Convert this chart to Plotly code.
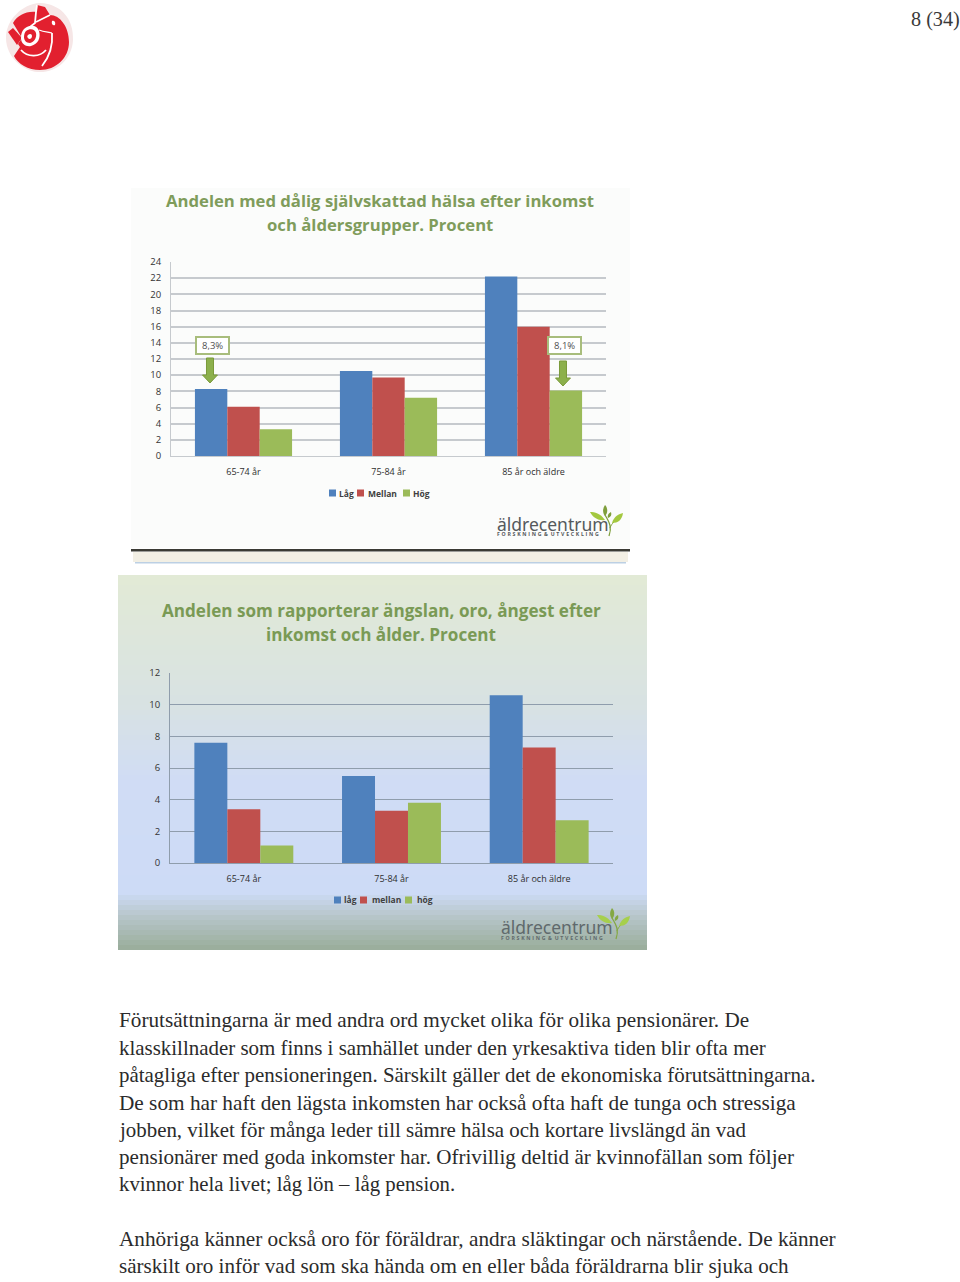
import re
import plotly.graph_objects as go

W, H = 960, 1282

# ---- data ----
groups_a = ["65-74 år", "75-84 år", "85 år och äldre"]
low_a = [8.3, 10.5, 22.2]
mid_a = [6.1, 9.7, 16.0]
high_a = [3.3, 7.2, 8.1]
names_a = ["Låg", "Mellan", "Hög"]
ticks_a = list(range(0, 25, 2))

groups_b = ["65-74 år", "75-84 år", "85 år och äldre"]
low_b = [7.6, 5.5, 10.6]
mid_b = [3.4, 3.3, 7.3]
high_b = [1.1, 3.8, 2.7]
names_b = ["låg", "mellan", "hög"]
ticks_b = list(range(0, 13, 2))

colors = ["#4f81bd", "#c0504d", "#9bbb59"]
title_a = ["Andelen med dålig självskattad hälsa efter inkomst", "och åldersgrupper. Procent"]
title_b = ["Andelen som rapporterar ängslan, oro, ångest efter", "inkomst och ålder. Procent"]
body_lines = [
    "Förutsättningarna är med andra ord mycket olika för olika pensionärer. De",
    "klasskillnader som finns i samhället under den yrkesaktiva tiden blir ofta mer",
    "påtagliga efter pensioneringen. Särskilt gäller det de ekonomiska förutsättningarna.",
    "De som har haft den lägsta inkomsten har också ofta haft de tunga och stressiga",
    "jobben, vilket för många leder till sämre hälsa och kortare livslängd än vad",
    "pensionärer med goda inkomster har. Ofrivillig deltid är kvinnofällan som följer",
    "kvinnor hela livet; låg lön – låg pension.",
    "Anhöriga känner också oro för föräldrar, andra släktingar och närstående. De känner",
    "särskilt oro inför vad som ska hända om en eller båda föräldrarna blir sjuka och",
]

# ---- layout constants ----
body_y = [1020, 1048, 1075, 1103, 1130, 1157, 1184, 1239, 1266]
body_size = [21.2, 20.93, 20.94, 21.28, 20.9, 21.09, 20.8, 21.24, 21.09]
gradient_stops = [(575, (226, 234, 214)), (700, (216, 226, 226)), (780, (208, 220, 245)),
                  (890, (205, 219, 246)), (915, (182, 197, 200)), (950, (150, 170, 150))]

SANS = "Open Sans, Noto Sans, sans-serif"
SERIF = "Liberation Serif, serif"
shapes, annos = [], []


def fx(x):
    return x / W


def fy(y):
    return 1 - y / H


def rect(x0, y0, x1, y1, fill, line=None, lw=0, layer="below"):
    shapes.append(dict(type="rect", xref="paper", yref="paper", x0=fx(x0), x1=fx(x1), y0=fy(y0), y1=fy(y1),
                       fillcolor=fill, line=dict(color=line or fill, width=lw), layer=layer))


def path(d, fill, line=None, lw=0, layer="above"):
    conv = re.sub(r"(-?[\d.]+),(-?[\d.]+)", lambda m: f"{fx(float(m[1])):.5f},{fy(float(m[2])):.5f}", d)
    shapes.append(dict(type="path", xref="paper", yref="paper", path=conv, fillcolor=fill,
                       line=dict(color=line or fill, width=lw), layer=layer))


def stroke(d, color, lw):
    path(d, "rgba(0,0,0,0)", line=color, lw=lw)


def text(x, y, s, size, color, family=SANS, anchor="left", bold=False):
    if bold:
        s = f"<b>{s}</b>"
    annos.append(dict(xref="paper", yref="paper", x=fx(x), y=fy(y), text=s, showarrow=False,
                      xanchor=anchor, yanchor="middle", borderpad=0, font=dict(size=size, color=color, family=family)))


def legend(y, items):
    for (sx, tx, label), c in zip(items, colors):
        rect(sx, y - 3.5, sx + 7, y + 3.5, c, layer="above")
        text(tx, y, label, 8.5, "#404040", bold=True)


def logo(x, y, size, sub_y, sub_size, color):
    text(x, y, "äldrecentrum", size, color, family="Noto Sans, sans-serif")
    gap = "\u2009\u2009"
    spaced = gap.join("FORSKNING") + "  &amp;  " + gap.join("UTVECKLING")
    text(x, sub_y, spaced, sub_size, color, bold=True)


def leaves(ox, oy, c, trunk):
    stroke(f"M{ox+4},{oy+16} C{ox+7},{oy+8} {ox+5},{oy+3} {ox},{oy-5}", trunk, 1.3)
    stroke(f"M{ox+5},{oy+8} C{ox+6},{oy+5} {ox+7},{oy+4} {ox+9},{oy+2}", trunk, 1)
    path(f"M{ox+7},{oy+3} C{ox+9},{oy-4} {ox+14},{oy-6} {ox+18},{oy-7} C{ox+17},{oy} {ox+13},{oy+3} {ox+7},{oy+3}Z", c)
    path(f"M{ox},{oy} C{ox-5},{oy-7} {ox-10},{oy-8} {ox-15},{oy-8} C{ox-12},{oy-2} {ox-6},{oy+1} {ox},{oy}Z", c)
    path(f"M{ox},{oy-4} C{ox-3},{oy-8} {ox-2},{oy-12} {ox},{oy-15} C{ox+3},{oy-12} {ox+3},{oy-7} {ox},{oy-4}Z", trunk)
    path(f"M{ox+3},{oy-2} C{ox+2},{oy-5} {ox+4},{oy-7} {ox+6},{oy-8} C{ox+7},{oy-5} {ox+6},{oy-3} {ox+3},{oy-2}Z", trunk)


# ---- panel A background ----
rect(131, 188, 630, 548, "#fbfcfb")
rect(133, 552, 628, 562, "#f2efe4")
rect(135, 562, 626, 563.5, "#bcd0e4")
rect(131, 549, 630, 551.5, "#3a3a34")
for i, line in enumerate(title_a):
    text(380, 200.5 + i * 24.5, line, 16.7, "#7f9c5b", anchor="center", bold=True)

# ---- panel B background ----
for y in range(575, 950, 5):
    for (y0, c0), (y1, c1) in zip(gradient_stops, gradient_stops[1:]):
        if y0 <= y <= y1:
            t = (y - y0) / (y1 - y0)
            c = tuple(round(a + (b - a) * t) for a, b in zip(c0, c1))
            rect(118, y, 647, min(y + 7, 950), f"rgb{c}")
            break
for i, line in enumerate(title_b):
    text(381, 610.5 + i * 23.5, line, 17.1, "#7a9a55", anchor="center", bold=True)

# ---- callouts ----
for (x0, x1, label) in [(196, 229, "8,3%"), (548, 581, "8,1%")]:
    rect(x0, 337, x1, 354, "#ffffff", line="#a8bd7c", lw=2, layer="above")
    text((x0 + x1) / 2, 345.5, label, 9.5, "#505050", anchor="center")
for cx, y0, y1 in [(210, 358, 383), (563, 361, 386)]:
    path(f"M{cx-3.5},{y0} L{cx+3.5},{y0} L{cx+3.5},{y1-8} L{cx+7.5},{y1-8} L{cx},{y1} L{cx-7.5},{y1-8} L{cx-3.5},{y1-8}Z",
         "#8cb04c", line="#7a9a3a", lw=1)

# ---- legends ----
legend(493, [(329, 338, names_a[0]), (357, 367, names_a[1]), (403, 412, names_a[2])])
legend(900, [(334, 343, names_b[0]), (360, 371, names_b[1]), (405, 416, names_b[2])])

# ---- logos ----
logo(496, 524, 17.5, 534, 5.2, "#55595c")
leaves(605, 520, "#a3c83f", "#7f9f3c")
logo(500, 927, 17.5, 938, 5.2, "#5f696c")
leaves(612, 923, "#a6cf4c", "#84a844")

# ---- party rose ----
RED = "#e2202f"
path("M6,38 C6,20 22,4 40,3 C62,4 74,20 73,40 C72,60 56,73 38,72 C22,71 6,56 6,38Z", "#f6e6e6")
path("M13,23 C18,15 26,11 36,12 L37,5 L45,7 L50,15 C60,15 69,27 69,42 C69,58 56,70 40,70 C28,70 18,64 14,56 "
     "L20,47 L18,44 L22,38 L13,23Z", RED)
path("M8,32 L13,28 L22,38 L17,45Z", RED)
stroke("M37,5 L36,12 L35,23 L26,30 L22,36", "#ffffff", 1.8)
stroke("M36,22 L50,15", "#ffffff", 1.8)
path("M24,29 C30,24 37,25 39,31 C41,38 38,44 31,46 C26,47 21,44 21,38 C21,34 22,31 24,29Z", "#ffffff")
path("M26,31 C30,28 35,29 36,33 C37,38 34,42 30,43 C26,43 24,40 24,37 C24,34 25,32 26,31Z", RED)
path("M28,35 C30,33 32,34 32,36 C32,39 29,40 28,38 C27,37 27,36 28,35Z", "#ffffff")
stroke("M21,50 C28,58 40,57 46,50", "#ffffff", 1.8)
stroke("M52,33 C53,45 50,56 42,66", "#ffffff", 1.8)
stroke("M39,30 C44,32 48,32 52,33", "#ffffff", 1.2)
path("M52,21 C54,20 56,22 55,25 C53,26 51,24 52,21Z", "#ffffff")

# ---- page text ----
text(961, 20, "8 (34)", 20.2, "#3a3a3a", family=SERIF, anchor="right")
for line, y, size in zip(body_lines, body_y, body_size):
    text(118, y, line, size, "#2b2b2b", family=SERIF)

# ---- charts ----
fig = go.Figure()
for vals, name, c in zip([low_a, mid_a, high_a], names_a, colors):
    fig.add_trace(go.Bar(x=groups_a, y=vals, name=name, marker=dict(color=c, line=dict(width=0)),
                         xaxis="x", yaxis="y", showlegend=False))
for vals, name, c in zip([low_b, mid_b, high_b], names_b, colors):
    fig.add_trace(go.Bar(x=groups_b, y=vals, name=name, marker=dict(color=c, line=dict(width=0)),
                         xaxis="x2", yaxis="y2", showlegend=False))

tick_font = dict(size=9.5, color="#333333", family=SANS)


def x_axis(x0, x1, anchor, line_col, standoff):
    return dict(domain=[fx(x0), fx(x1)], anchor=anchor, type="category", showgrid=False, showline=True,
                linecolor=line_col, linewidth=1, ticks="", tickfont=dict(size=9, color="#2f2f2f", family=SANS),
                ticklabelstandoff=standoff, fixedrange=True)


def y_axis(y_top, y_bot, anchor, tickvals, top, grid, width):
    return dict(domain=[fy(y_bot), fy(y_top)], anchor=anchor, range=[0, top], tickvals=tickvals, showgrid=True,
                gridcolor=grid, gridwidth=width, showline=True, linecolor=grid, linewidth=1, zeroline=False,
                ticks="", tickfont=tick_font, ticklabelstandoff=7, fixedrange=True)


fig.update_layout(
    width=W, height=H, margin=dict(l=0, r=0, t=0, b=0, autoexpand=False), paper_bgcolor="#ffffff",
    plot_bgcolor="rgba(0,0,0,0)",
    barmode="group", bargap=0.33, bargroupgap=0, shapes=shapes, annotations=annos,
    xaxis=x_axis(171, 606, "y", "#c6cace", 7), yaxis=y_axis(262, 456, "x", ticks_a, 24, "#c6cace", 1.5),
    xaxis2=x_axis(170, 613, "y2", "#8f9dac", 7), yaxis2=y_axis(673, 863, "x2", ticks_b, 12, "#8f9dac", 1),
)
fig.write_html("out.html", config=dict(displayModeBar=False), post_script="document.body.style.margin='0';")
